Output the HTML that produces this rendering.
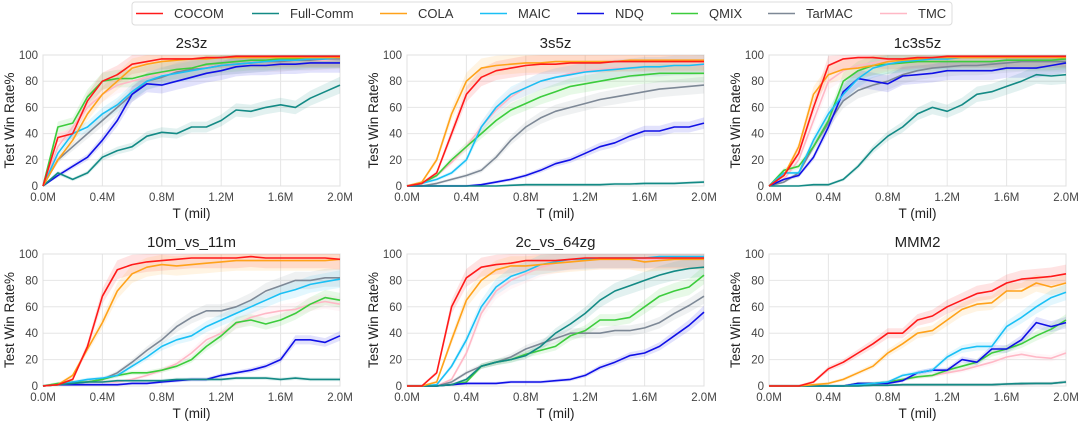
<!DOCTYPE html>
<html><head><meta charset="utf-8"><style>
body{margin:0;background:#fff;font-family:"Liberation Sans",sans-serif;}
svg{display:block}
</style></head><body>
<svg id="chart" width="1080" height="431" xmlns="http://www.w3.org/2000/svg"></svg>
<script>
const seriesNames = ["COCOM","Full-Comm","COLA","MAIC","NDQ","QMIX","TarMAC","TMC"];
const seriesColors = ["#ff1a1a","#138a85","#ffa21a","#1ac0f5","#1010e6","#3ccc3c","#7d8896","#ffb8c6"];
const panelTitles = ["2s3z","3s5z","1c3s5z","10m_vs_11m","2c_vs_64zg","MMM2"];
const tSteps = [0,0.1,0.2,0.3,0.4,0.5,0.6,0.7,0.8,0.9,1.0,1.1,1.2,1.3,1.4,1.5,1.6,1.7,1.8,1.9,2.0];
const xTicks = [0,0.4,0.8,1.2,1.6,2.0];
const xTickLabels = ["0.0M","0.4M","0.8M","1.2M","1.6M","2.0M"];
const yTicks = [0,20,40,60,80,100];
const p1 = [
[0,37,40,65,80,85,93,95,97,97,97,98,98,99,99,99,99,99,99,99,99],
[0,10,5,10,22,27,30,38,41,40,45,45,50,58,57,60,62,60,67,72,77],
[0,20,35,55,70,80,90,93,95,96,97,97,98,98,98,98,98,98,98,98,98],
[0,25,40,45,55,62,72,80,84,86,88,90,92,93,94,95,96,96,97,97,98],
[0,8,15,22,35,50,70,78,77,80,83,86,88,91,92,92,93,93,94,94,94],
[0,45,48,68,80,82,82,85,87,89,90,93,94,95,96,96,97,97,98,98,98],
[0,20,30,40,50,60,70,80,83,87,89,90,92,93,94,95,95,96,96,97,97],
[0,30,45,60,70,77,80,83,86,88,90,91,92,93,94,95,95,96,96,96,97]];
const p2 = [
[0,2,10,40,70,83,88,90,92,93,93,94,94,94,95,95,95,95,95,95,95],
[0,0,0,0,0,0,0,0.5,1,1,1,1,1,1,1.5,1.5,2,2,2,2.5,3],
[0,3,20,55,80,90,92,93,94,94,95,95,95,95,95,96,96,96,96,96,96],
[0,2,5,10,20,45,60,70,75,80,83,85,87,88,89,90,91,91,92,92,93],
[0,0,0,0,0,1,3,5,8,12,17,20,25,30,33,38,42,42,45,45,48],
[0,2,8,20,30,40,50,58,63,68,72,76,78,80,82,84,85,86,86,86,86],
[0,0,2,5,8,12,22,35,45,52,57,60,63,66,68,70,72,74,75,76,77],
[0,2,8,18,30,45,58,68,75,80,83,86,88,89,90,90,91,91,92,92,92]];
const p3 = [
[0,8,25,60,92,97,98,98,97,97,98,98,99,99,99,99,99,99,99,99,99],
[0,0,0,1,1,5,15,28,38,45,55,60,57,62,70,72,76,80,85,84,85],
[0,8,30,70,85,89,90,92,95,96,97,98,98,98,98,98,98,98,98,98,98],
[0,10,10,35,55,70,82,90,93,95,96,97,97,98,98,98,98,98,98,98,98],
[0,5,8,22,45,72,82,80,78,84,85,86,88,88,88,88,90,90,90,92,94],
[0,12,15,30,50,80,88,92,93,94,95,95,95,95,95,95,96,96,96,96,97],
[0,3,10,30,48,65,73,77,80,85,88,90,91,92,92,93,94,95,95,95,95],
[0,5,20,50,80,88,92,94,96,97,97,98,98,98,98,98,98,98,98,98,98]];
const p4 = [
[0,1,5,30,68,88,92,94,95,96,97,97,97,97,98,97,97,97,97,97,96],
[0,1,2,3,3,4,4,4,4,5,5,5,5,6,6,6,5,6,5,5,5],
[0,1,8,28,48,72,85,90,92,91,92,93,94,95,95,95,95,95,95,95,96],
[0,1,3,5,6,8,15,22,30,35,38,45,50,55,60,65,70,73,77,79,81],
[0,1,1,1,1,1,2,2,3,4,5,5,8,10,12,15,20,35,35,33,38],
[0,2,3,3,5,8,10,10,12,15,20,30,38,48,50,47,50,55,62,67,65],
[0,1,2,3,5,10,18,27,35,45,52,57,57,60,65,72,76,80,80,82,82],
[0,1,2,3,3,3,5,8,12,17,25,35,40,47,52,55,57,58,62,64,62]];
const p5 = [
[0,0,10,60,82,90,92,93,95,95,95,96,97,97,97,97,97,97,97,97,97],
[0,0,0,1,5,15,18,20,23,30,40,47,55,65,72,76,80,84,87,89,90],
[0,0,3,35,65,80,88,91,91,92,93,94,95,96,96,96,94,95,96,96,96],
[0,0,1,15,35,60,75,83,87,92,94,96,96,97,97,97,97,98,98,98,98],
[0,0,0,1,2,2,2,3,3,3,4,5,8,14,18,23,25,30,38,46,56],
[0,0,0,1,3,15,18,20,24,27,30,38,42,50,50,52,60,68,72,75,84],
[0,0,0,3,10,15,18,22,28,32,36,40,40,40,42,42,44,48,55,61,68],
[0,0,0,5,25,55,72,80,85,90,93,95,96,96,96,96,96,96,96,96,96]];
const p6 = [
[0,0,0,3,13,18,25,32,40,40,50,53,60,65,70,72,78,81,82,83,85],
[0,0,0,0,0,0,0,0.5,0.5,1,1,1,1,1,1,1,1.5,2,2,2,3],
[0,0,0,1,2,5,10,15,25,32,40,42,50,58,62,63,72,72,78,75,78],
[0,0,0,0,0,0,1,2,3,8,10,12,22,28,30,30,45,52,60,67,71],
[0,0,0,0,0,0,2,2,2,4,10,12,12,20,18,28,28,35,48,45,48],
[0,0,0,0,0,0,2,2,3,5,7,8,12,15,18,25,28,32,38,43,50],
[0,0,0,0,0,0,0,0.5,0.5,1,1,1,1,1,1,1,1.5,1.5,2,2,3],
[0,0,0,0,0,0,1,2,3,5,7,8,10,12,15,18,22,24,22,21,25]];
const panelData = [p1,p2,p3,p4,p5,p6];

const NS="http://www.w3.org/2000/svg";
const svg=document.getElementById('chart');
function mk(tag,attrs,parent){const e=document.createElementNS(NS,tag);for(const k in attrs)e.setAttribute(k,attrs[k]);(parent||svg).appendChild(e);return e;}

const lg=mk('g',{});


mk('rect',{x:132,y:2,width:820,height:23,rx:3,fill:'#fff',stroke:'#dcdcdc'},lg);
const legX=[136,252,380,480,577,671,768,880];
seriesNames.forEach((n,i)=>{
  const g=mk('g',{},lg);
  
  
  mk('line',{x1:legX[i],x2:legX[i]+27,y1:13.5,y2:13.5,stroke:seriesColors[i],'stroke-width':1.6},g);
  const t=mk('text',{x:legX[i]+38,y:18,'font-size':13,fill:'#333'},g);t.textContent=n;
});

const colX=[43,407,769], rowY=[[55,186],[254,386]], W=297;
panelData.forEach((data,pi)=>{
  const x0=colX[pi%3], y0=rowY[Math.floor(pi/3)][0], y1=rowY[Math.floor(pi/3)][1];
  const H=y1-y0;
  const sx=v=>x0+v/2.0*W, sy=v=>y1-v/100*H;
  const g=mk('g',{});
  
  
  yTicks.forEach(v=>{
    mk('line',{x1:x0,x2:x0+W,y1:sy(v),y2:sy(v),stroke:'#e6e6e6','stroke-width':1},g);
    const t=mk('text',{x:x0-5,y:sy(v)+4,'font-size':11.5,fill:'#444','text-anchor':'end'},g);t.textContent=v;
  });
  xTicks.forEach((v,i)=>{
    mk('line',{x1:sx(v),x2:sx(v),y1:y0,y2:y1,stroke:'#e6e6e6','stroke-width':1},g);
    const t=mk('text',{x:sx(v),y:y1+15,'font-size':11.5,fill:'#444','text-anchor':'middle'},g);t.textContent=xTickLabels[i];
  });
  mk('rect',{x:x0,y:y0,width:W,height:H,fill:'none',stroke:'#e0e0e0'},g);
  const tt=mk('text',{x:x0+W/2,y:y0-7,'font-size':15,fill:'#222','text-anchor':'middle'},g);tt.textContent=panelTitles[pi];
  
  
  const xl=mk('text',{x:x0+W/2,y:y1+32,'font-size':13.5,fill:'#222','text-anchor':'middle'},g);xl.textContent='T (mil)';
  
  
  const yl=mk('text',{x:0,y:0,'font-size':13.5,fill:'#222','text-anchor':'middle',transform:`translate(${x0-29},${(y0+y1)/2}) rotate(-90)`},g);yl.textContent='Test Win Rate%';
  
  
  data.forEach((s,si)=>{
    const up=s.map((v,i)=>sx(tSteps[i]).toFixed(1)+','+sy(Math.min(100,v+1+v*0.07)).toFixed(1));
    const dn=s.map((v,i)=>sx(tSteps[i]).toFixed(1)+','+sy(Math.max(0,v-1-v*0.07)).toFixed(1)).reverse();
    const b=mk('polygon',{points:up.concat(dn).join(' '),fill:seriesColors[si],'fill-opacity':0.12,stroke:'none'},g);
    
    
  });
  [7,6,5,4,3,1,2,0].forEach(si=>{
    const s=data[si];
    const pts=s.map((v,i)=>sx(tSteps[i]).toFixed(1)+','+sy(v).toFixed(1)).join(' ');
    const l=mk('polyline',{points:pts,fill:'none',stroke:seriesColors[si],'stroke-width':1.6,'stroke-linejoin':'round'},g);
    
    
  });
});
</script>
</body></html>
